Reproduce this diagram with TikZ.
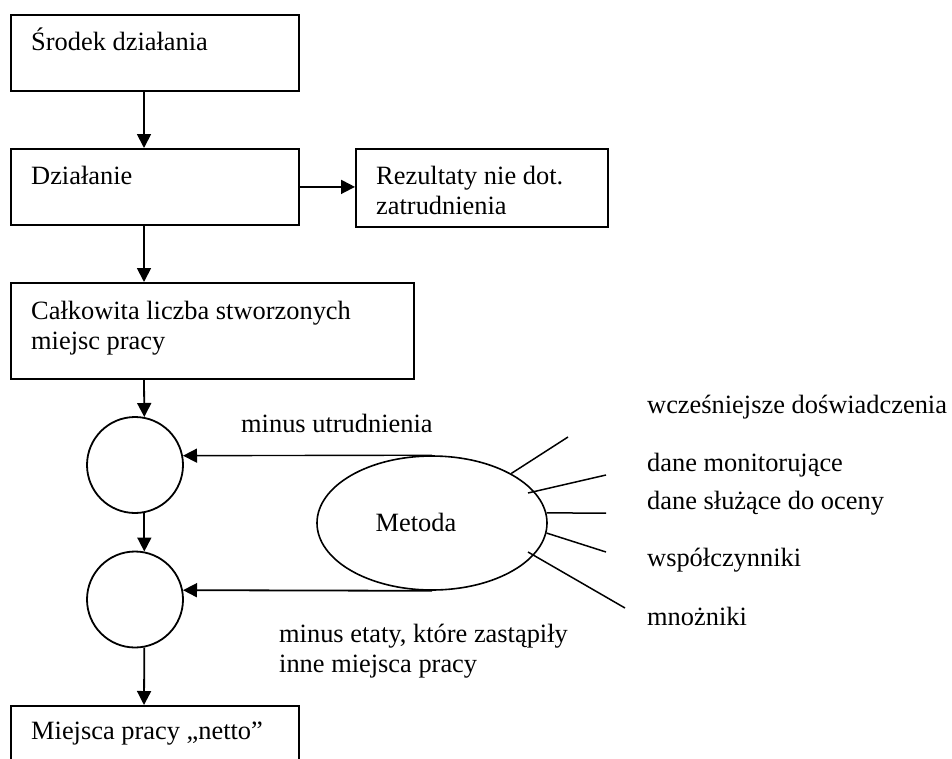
\documentclass[tikz,border=0pt]{standalone}
\usepackage{fontspec}
\setmainfont{Liberation Serif}
\usetikzlibrary{arrows.meta,shapes.geometric}
\begin{document}
\begin{tikzpicture}[x=1pt,y=-1pt,
  every node/.style={font=\fontsize{26.4}{30}\selectfont},
  box/.style={draw,line width=1.8pt,inner sep=0pt,anchor=north west},
  txt/.style={anchor=base west,inner sep=0pt,align=left},
  arr/.style={line width=1.8pt,-{Triangle[length=14pt,width=14pt]}},
  spoke/.style={line width=1.5pt},
  ring/.style={draw,circle,line width=1.8pt,minimum size=96pt,inner sep=0pt}]
\clip (0,0) rectangle (952,758);
% boxes
\node[box,minimum width=288pt,minimum height=76pt] (b1) at (10,14) {};
\node[box,minimum width=288pt,minimum height=76pt] (b2) at (10,148) {};
\node[box,minimum width=252pt,minimum height=78pt] (b3) at (355,148) {};
\node[box,minimum width=403pt,minimum height=96pt] (b4) at (10,282) {};
\node[box,minimum width=288pt,minimum height=90pt] (b5) at (10,705) {};
% box texts (multi-line nodes: base = last line)
\node[txt] (t1) at (31,50) {Środek działania};
\node[txt] (t2) at (31,184) {Działanie};
\node[txt] (t3) at (376,214) {Rezultaty nie dot.\\zatrudnienia};
\node[txt] (t4) at (31,349) {Całkowita liczba stworzonych\\miejsc pracy};
\node[txt] (t5) at (31,739) {Miejsca pracy „netto”};
% circles and ellipse
\node[ring] (c1) at (135,465) {};
\node[ring] (c2) at (135,599.5) {};
\node[draw,ellipse,line width=1.6pt,minimum width=230pt,minimum height=134pt,inner sep=0pt] (m) at (432,523) {};
\node (mt) at (416,522) {Metoda};
% arrows
\coordinate (ax) at (144,0);
\draw[arr] (b1.south -| ax) -- (b2.north -| ax);
\draw[arr] (b2.east) -- (b2.east -| b3.west);
\draw[arr] (b2.south -| ax) -- (b4.north -| ax);
\draw[arr] (b4.south -| ax) -- (c1.79);
\draw[arr] (c1.-79) -- (c2.79);
\draw[arr] (c2.-79) -- (b5.north -| ax);
\draw[arr,line width=1.4pt] (m.north) -- (c1.11);
\draw[arr] (m.south) -- (c2.11);
% arrow labels
\node[txt] (l1) at (241,432) {minus utrudnienia};
\node[txt] (l2) at (279,672) {minus etaty, które zastąpiły\\inne miejsca pracy};
% spokes
\coordinate (s1) at (568,437);
\coordinate (s2a) at (528,493);
\coordinate (s2) at (606,475);
\coordinate (s3) at (606,513);
\coordinate (s4) at (606,552);
\coordinate (s5a) at (528,552);
\coordinate (s5) at (625,608);
\draw[spoke] (m.32) -- (s1);
\draw[spoke] (s2a) -- (s2);
\draw[spoke] (m.5) -- (s3);
\draw[spoke] (m.-5) -- (s4);
\draw[spoke] (s5a) -- (s5);
% right labels
\node[txt] (r1) at (647,413) {wcześniejsze doświadczenia};
\node[txt] (r2) at (647,471) {dane monitorujące};
\node[txt] (r3) at (647,509) {dane służące do oceny};
\node[txt] (r4) at (647,566) {współczynniki};
\node[txt] (r5) at (647,625) {mnożniki};
\end{tikzpicture}
\end{document}
